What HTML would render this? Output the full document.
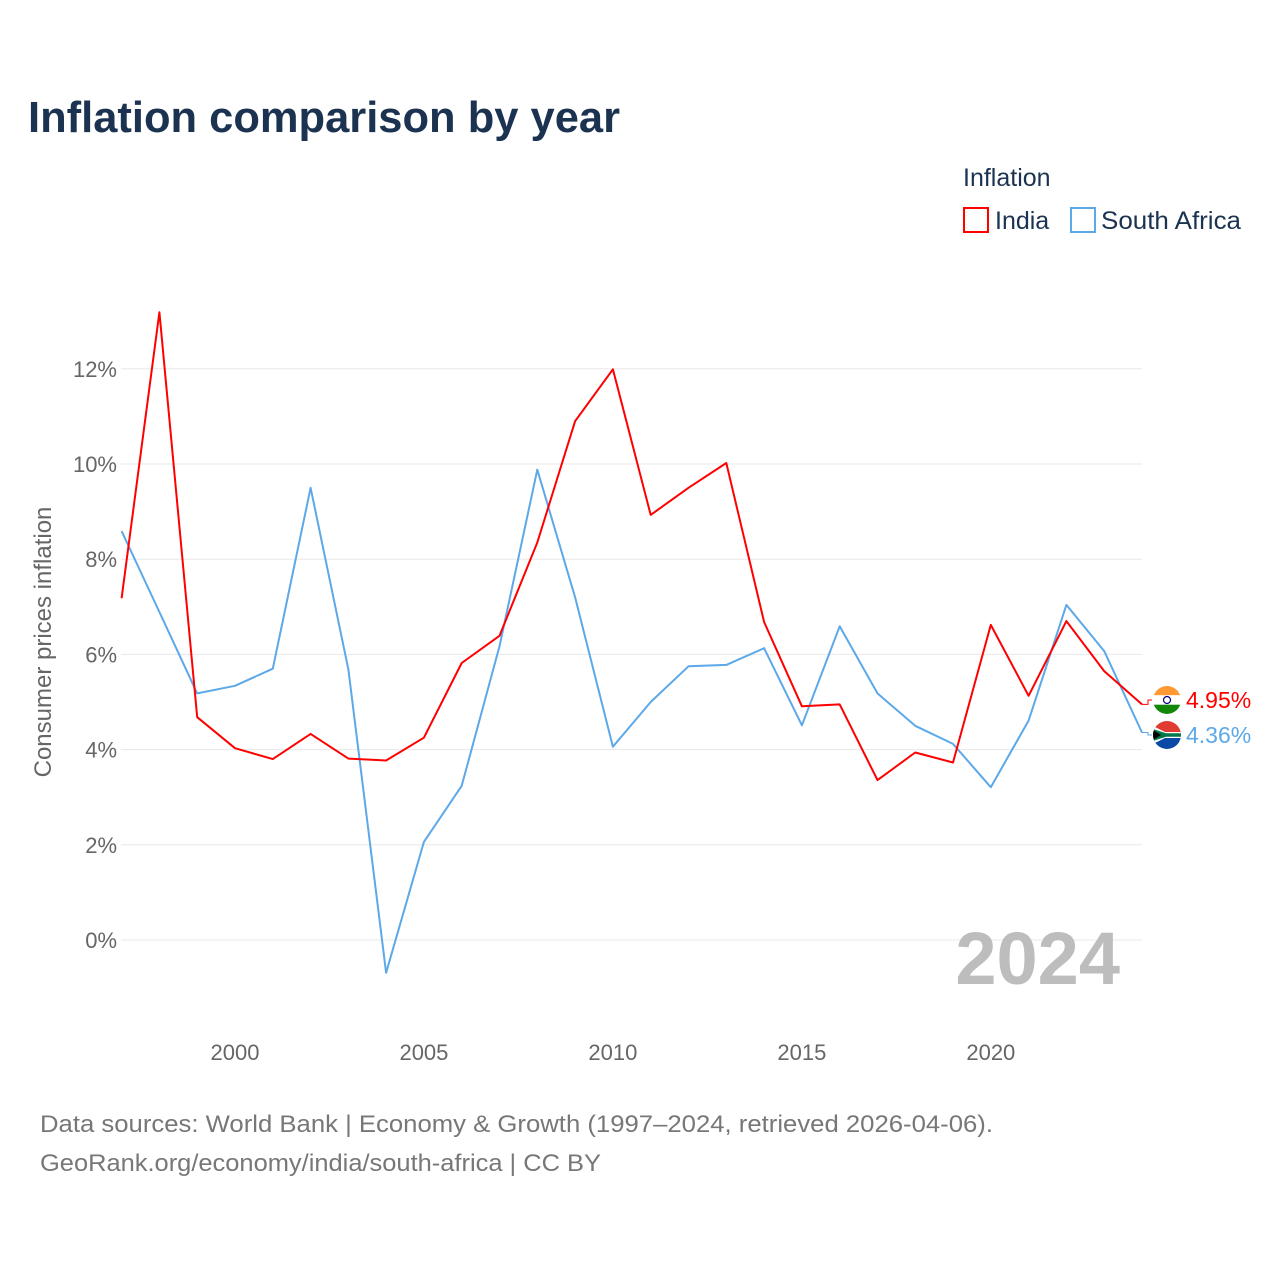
<!DOCTYPE html>
<html><head><meta charset="utf-8"><style>
body{margin:0;background:#fff;font-family:"Liberation Sans",sans-serif}
#wrap{position:relative;width:1280px;height:1280px;overflow:hidden}
</style></head><body>
<div id="wrap">
<svg id="chart" width="1280" height="1280">
<defs>
<clipPath id="c1"><circle cx="1167" cy="700" r="14"/></clipPath>
<clipPath id="c2"><circle cx="1167" cy="735" r="14"/></clipPath>
</defs>
<text x="28" y="132" font-size="44" font-weight="bold" fill="#1b3350" textLength="592" lengthAdjust="spacingAndGlyphs">Inflation comparison by year</text>
<g>
<text x="963" y="186" font-size="25" fill="#1b3350">Inflation</text>
<g><rect x="964" y="208" width="24" height="24" fill="none" stroke="#ff0000" stroke-width="2"/><text x="995" y="229" font-size="25" fill="#1b3350">India</text></g>
<g><rect x="1071" y="208" width="24" height="24" fill="none" stroke="#5ca8e8" stroke-width="2"/><text x="1101" y="229" font-size="25" fill="#1b3350" textLength="140" lengthAdjust="spacingAndGlyphs">South Africa</text></g>
</g>
<g id="grid"></g>
<g id="yticks"></g>
<g id="xticks"></g>
<text transform="translate(51,642) rotate(-90)" text-anchor="middle" font-size="24" fill="#666">Consumer prices inflation</text>
<text x="1120" y="984" text-anchor="end" font-size="74" font-weight="bold" fill="#bdbdbd">2024</text>
<g id="series"></g>
<text x="40" y="1132" font-size="24" fill="#777" textLength="953" lengthAdjust="spacingAndGlyphs">Data sources: World Bank | Economy &amp; Growth (1997–2024, retrieved 2026-04-06).</text>
<text x="40" y="1171" font-size="24" fill="#777" textLength="561" lengthAdjust="spacingAndGlyphs">GeoRank.org/economy/india/south-africa | CC BY</text>
</svg>
</div>
<script>
const years=[1997,1998,1999,2000,2001,2002,2003,2004,2005,2006,2007,2008,2009,2010,2011,2012,2013,2014,2015,2016,2017,2018,2019,2020,2021,2022,2023,2024];
const india=[7.18,13.19,4.68,4.03,3.8,4.33,3.81,3.77,4.25,5.82,6.39,8.35,10.9,11.99,8.93,9.5,10.02,6.68,4.91,4.95,3.36,3.94,3.73,6.62,5.13,6.7,5.65,4.95];
const southAfrica=[8.59,6.89,5.18,5.34,5.7,9.5,5.68,-0.69,2.06,3.24,6.17,9.88,7.2,4.06,5.0,5.75,5.78,6.13,4.51,6.59,5.18,4.5,4.12,3.21,4.61,7.04,6.07,4.36];
const yTickVals=[0,2,4,6,8,10,12];
const yTickLabels=["0%","2%","4%","6%","8%","10%","12%"];
const xTickVals=[2000,2005,2010,2015,2020];
const xTickLabels=["2000","2005","2010","2015","2020"];
const NS="http://www.w3.org/2000/svg";
const X=y=>121.6+(y-1997)*(1142-121.6)/27;
const Y=v=>940-v*47.6;
function mk(t,a,p){const e=document.createElementNS(NS,t);for(const k in a)e.setAttribute(k,a[k]);p.appendChild(e);return e;}
const grid=document.getElementById('grid'),yt=document.getElementById('yticks'),xt=document.getElementById('xticks'),ser=document.getElementById('series');
yTickVals.forEach((v,i)=>{
 const l=mk('line',{x1:121,x2:1142,y1:Y(v),y2:Y(v),stroke:'#e8e8e8','stroke-width':1},grid);
 
 
 const t=mk('text',{x:117,y:Y(v)+8,'text-anchor':'end','font-size':22,fill:'#666'},yt);
 t.textContent=yTickLabels[i];
 
 
});
xTickVals.forEach((v,i)=>{
 const t=mk('text',{x:X(v),y:1060,'text-anchor':'middle','font-size':22,fill:'#666'},xt);
 t.textContent=xTickLabels[i];
 
 
});
function line(vals,col,name){
 const d=vals.map((v,i)=>(i?'L':'M')+X(years[i]).toFixed(1)+','+Y(v).toFixed(1)).join('');
 const p=mk('path',{d:d,fill:'none',stroke:col,'stroke-width':2,'stroke-linejoin':'round'},ser);
 
 
}
line(southAfrica,'#5ca8e8','south-africa-line');
line(india,'#ff0000','india-line');
function endLabel(v,col,name,flag,ly,clip){
 const x=X(2024),y=Y(v);
 const g=mk('g',{},ser);
 
 
 mk('path',{d:`M${x},${y}L${x+6},${y}L${x+6},${ly}L${x+10},${ly}`,fill:'none',stroke:col,'stroke-width':1},g);
 const cx=1167;
 const f=mk('g',{'clip-path':'url(#'+clip+')'},g);
 if(flag==='in'){
  mk('rect',{x:cx-14,y:ly-14,width:28,height:9.3,fill:'#ff9933'},f);
  mk('rect',{x:cx-14,y:ly-4.7,width:28,height:9.4,fill:'#fff'},f);
  mk('rect',{x:cx-14,y:ly+4.7,width:28,height:9.3,fill:'#138808'},f);
  mk('circle',{cx:cx,cy:ly,r:3.5,fill:'none',stroke:'#000080','stroke-width':1.2},f);
 }else{
  mk('rect',{x:cx-14,y:ly-14,width:28,height:14,fill:'#e03c31'},f);
  mk('rect',{x:cx-14,y:ly,width:28,height:14,fill:'#0a49a5'},f);
  mk('polygon',{points:`${cx-14},${ly-9} ${cx-2},${ly-3} ${cx+14},${ly-3} ${cx+14},${ly+3} ${cx-2},${ly+3} ${cx-14},${ly+9}`,fill:'#fff'},f);
  mk('polygon',{points:`${cx-14},${ly-6} ${cx-1},${ly-1.8} ${cx+14},${ly-1.8} ${cx+14},${ly+1.8} ${cx-1},${ly+1.8} ${cx-14},${ly+6}`,fill:'#007749'},f);
  mk('polygon',{points:`${cx-14},${ly-5} ${cx-6},${ly} ${cx-14},${ly+5}`,fill:'#000'},f);
 }
 const t=mk('text',{x:1186,y:ly+8,'font-size':23,fill:col},g);
 t.textContent=v.toFixed(2)+'%';
}
endLabel(india[india.length-1],'#ff0000','india-end-label','in',700,'c1');
endLabel(southAfrica[southAfrica.length-1],'#5ca8e8','south-africa-end-label','za',735,'c2');
</script>
</body></html>
